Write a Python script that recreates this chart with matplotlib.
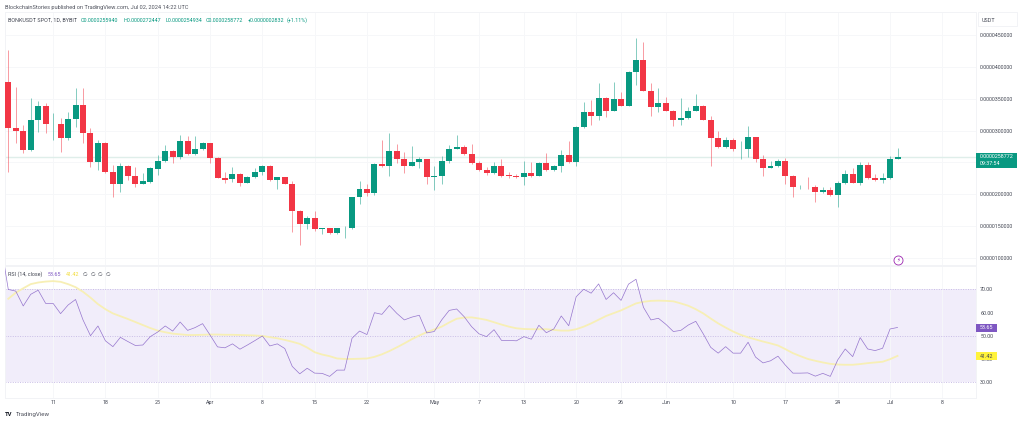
import numpy as np
import matplotlib
matplotlib.use('Agg')
import matplotlib.pyplot as plt

plt.rcParams['font.family'] = ['Roboto', 'DejaVu Sans']

# prices are in units of 1e-7 USDT, one entry per day from Mar 5 to Jul 2
opens = [376.7, 304.5, 299.8, 269.5, 316.5, 338.5, 310.0, 310.3, 287.8, 318.6,
         340.6, 295.7, 251.1, 280.9, 235.4, 215.6, 244.3, 228.6, 216.5, 219.7,
         240.1, 252.2, 268.3, 258.9, 283.6, 263.2, 270.6, 280.0, 257.4, 226.0,
         223.4, 231.3, 218.1, 227.0, 235.4, 243.8, 222.4, 226.6, 216.0, 173.7,
         152.8, 162.2, 146.0, 146.5, 138.7, 146.5, 147.4, 195.2, 208.2, 201.5,
         247.5, 244.8, 267.9, 254.8, 244.8, 250.6, 254.8, 226.6, 228.6, 252.6,
         271.5, 274.6, 263.2, 248.6, 237.6, 233.3, 244.8, 229.5, 228.6, 226.6,
         232.9, 228.6, 248.6, 238.0, 243.8, 262.0, 250.6, 305.0, 328.6, 322.8,
         351.6, 331.2, 349.5, 339.0, 391.4, 411.2, 362.6, 337.4, 343.7, 331.2,
         316.5, 319.2, 331.2, 339.0, 317.0, 287.8, 273.7, 285.6, 270.6, 271.0,
         289.4, 255.8, 241.6, 244.3, 252.2, 229.1, 210.9, 211.2, 210.9, 203.0,
         206.2, 198.8, 217.2, 231.8, 218.1, 246.4, 225.5, 222.8, 225.5, 255.94]
highs = [426.5, 368.8, 308.7, 351.0, 346.4, 343.2, 327.5, 319.7, 329.6, 366.8,
         366.8, 304.0, 285.2, 282.0, 245.9, 249.0, 245.9, 243.2, 233.3, 242.8,
         261.6, 277.3, 269.5, 293.0, 291.4, 291.4, 282.5, 280.9, 258.5, 235.4,
         243.2, 233.3, 228.6, 240.7, 245.9, 245.9, 227.5, 227.5, 220.8, 175.3,
         165.8, 173.7, 147.0, 147.0, 147.0, 149.5, 196.2, 221.2, 216.1, 249.0,
         285.2, 296.6, 278.9, 266.8, 275.7, 258.5, 255.0, 244.3, 260.0, 277.3,
         293.0, 277.3, 278.9, 252.6, 243.2, 251.1, 254.8, 235.4, 231.8, 252.6,
         251.1, 251.1, 265.2, 245.9, 269.5, 284.0, 307.1, 345.3, 348.0, 375.1,
         353.1, 376.7, 361.0, 394.0, 444.8, 439.5, 375.1, 366.3, 353.1, 332.3,
         351.6, 336.5, 357.4, 340.0, 322.8, 299.7, 290.3, 287.8, 284.0, 307.1,
         290.0, 261.6, 252.6, 254.8, 256.4, 230.2, 214.5, 227.5, 214.5, 211.8,
         211.8, 220.0, 238.0, 240.7, 251.1, 251.1, 231.8, 233.8, 260.0, 272.45]
lows = [235.4, 280.0, 265.2, 267.9, 298.2, 296.1, 285.2, 266.8, 285.2, 306.0,
        280.4, 243.2, 238.0, 233.3, 196.1, 204.0, 222.4, 210.9, 216.0, 218.1,
        230.2, 251.1, 248.6, 254.8, 261.6, 261.6, 269.5, 248.6, 225.0, 218.1,
        219.7, 212.9, 217.2, 226.0, 230.2, 220.8, 207.7, 215.6, 141.2, 120.3,
        145.4, 142.3, 137.0, 137.0, 137.0, 131.3, 146.0, 184.7, 197.2, 198.8,
        242.8, 228.6, 249.6, 232.8, 244.3, 241.2, 216.1, 206.6, 216.1, 248.6,
        270.5, 262.0, 247.5, 236.5, 229.7, 231.8, 226.6, 226.0, 225.5, 214.5,
        226.6, 228.0, 236.8, 236.0, 235.4, 249.8, 244.3, 304.0, 308.7, 316.5,
        320.8, 330.7, 338.5, 338.5, 371.5, 362.0, 322.8, 329.6, 330.7, 307.6,
        308.7, 317.6, 330.7, 316.5, 244.8, 272.2, 272.6, 268.3, 255.0, 258.0,
        251.0, 228.6, 241.0, 242.3, 216.0, 196.1, 207.8, 207.8, 188.0, 201.5,
        197.6, 179.5, 216.5, 217.0, 214.5, 224.7, 221.2, 217.0, 224.7, 254.93]
closes = [304.5, 299.3, 269.5, 316.5, 338.5, 310.3, 311.0, 287.8, 318.1, 340.6,
          296.1, 250.6, 280.9, 235.4, 215.6, 244.3, 228.6, 216.0, 220.3, 240.7,
          252.2, 268.3, 258.0, 283.6, 263.2, 270.6, 280.0, 257.4, 226.0, 222.8,
          231.3, 218.1, 226.6, 234.9, 243.8, 222.4, 226.6, 216.0, 173.7, 152.8,
          162.2, 145.9, 146.5, 138.7, 146.5, 147.4, 195.2, 208.2, 201.5, 247.5,
          244.3, 267.9, 254.8, 244.8, 250.1, 254.8, 226.6, 228.6, 252.6, 271.0,
          274.6, 263.2, 248.6, 237.6, 233.3, 244.8, 228.2, 229.1, 226.6, 232.9,
          228.6, 248.6, 238.0, 243.8, 261.6, 250.6, 305.0, 328.6, 322.8, 351.6,
          331.2, 349.5, 339.0, 391.4, 411.2, 362.6, 337.4, 343.7, 331.2, 316.5,
          319.7, 331.2, 339.0, 317.0, 287.8, 273.7, 285.6, 270.6, 270.9, 289.4,
          255.8, 241.6, 244.3, 252.2, 229.1, 210.9, 211.2, 210.9, 203.0, 206.2,
          198.8, 217.6, 231.8, 218.1, 246.4, 225.5, 222.8, 225.5, 255.9, 258.77]

# RSI starts one day earlier, the first point is cut off by the pane edge
rsi_vals = [89.7, 70.0, 69.3, 62.9, 67.9, 69.7, 64.0, 64.0, 59.6, 63.3, 65.7,
            56.9, 50.1, 54.3, 47.9, 45.4, 49.4, 47.6, 45.9, 46.1, 49.7,
            51.7, 54.3, 52.1, 56.0, 52.4, 53.6, 55.3, 50.4, 45.3, 44.9,
            46.6, 44.3, 46.1, 48.0, 50.0, 45.7, 46.6, 44.6, 36.9, 33.7,
            36.1, 34.0, 33.9, 32.6, 35.3, 35.3, 49.0, 52.1, 50.6, 60.0,
            59.3, 63.1, 59.7, 56.9, 58.1, 58.9, 51.3, 51.9, 56.9, 61.0,
            61.6, 58.3, 54.0, 50.9, 49.7, 52.7, 48.1, 48.1, 47.9, 49.7,
            48.6, 54.6, 51.4, 53.0, 58.6, 54.4, 66.9, 70.1, 68.4, 72.4,
            65.7, 68.6, 65.3, 72.3, 74.4, 62.3, 56.9, 57.6, 55.0, 51.9,
            52.4, 54.7, 56.3, 50.9, 45.1, 42.6, 45.4, 42.6, 42.6, 47.3,
            40.9, 38.4, 39.3, 41.3, 37.4, 34.0, 34.0, 34.1, 32.7, 33.9,
            32.6, 39.7, 44.4, 41.1, 49.3, 44.4, 43.7, 44.7, 53.0, 53.65]
rsi_ma = [66.0, 68.6, 70.5, 72.3, 73.0, 73.4, 73.6, 73.3, 72.3, 71.0,
          69.0, 66.5, 63.7, 61.5, 59.7, 58.5, 57.3, 56.0, 54.7, 53.4,
          52.3, 51.6, 51.0, 50.7, 50.4, 50.4, 50.5, 50.6, 50.6, 50.5,
          50.5, 50.4, 50.3, 50.2, 50.0, 49.5, 49.0, 48.3, 47.5, 46.6,
          45.0, 43.0, 42.0, 41.3, 40.3, 40.1, 40.1, 40.2, 40.3, 41.0,
          42.1, 43.5, 45.1, 46.8, 48.6, 50.2, 51.6, 52.8, 54.0, 55.8,
          57.4, 57.9, 58.0, 57.5, 56.9, 55.9, 54.9, 54.0, 53.3, 53.0,
          52.9, 52.9, 52.9, 52.6, 52.3, 52.3, 52.9, 54.0, 55.4, 57.0,
          58.6, 59.8, 61.0, 62.5, 64.0, 64.7, 65.1, 65.2, 65.1, 64.9,
          64.0, 63.0, 61.5, 59.7, 57.5, 55.4, 53.6, 51.9, 50.5, 49.4,
          48.5, 47.6, 46.8, 45.9, 44.3, 42.6, 41.3, 40.1, 39.3, 38.6,
          38.0, 37.7, 37.6, 37.6, 37.9, 38.3, 38.6, 38.9, 40.0, 41.42]

date_pos = [6, 13, 20, 27, 34, 41, 48, 57, 63, 69, 76, 82, 88, 97, 104, 111, 118, 125]
date_labels = ['11', '18', '25', 'Apr', '8', '15', '22', 'May', '7', '13', '20', '26',
               'Jun', '10', '17', '24', 'Jul', '8']
# the 250 label sits under the last price box in the picture, so only its gridline shows
price_ticks = [450, 400, 350, 300, 250, 200, 150, 100]
price_labels = ['0.0000450000', '0.0000400000', '0.0000350000', '0.0000300000', '',
                '0.0000200000', '0.0000150000', '0.0000100000']
rsi_ticks = [70, 60, 50, 40, 30]

GREEN = '#089981'
RED = '#f23645'
PURPLE = '#7e57c2'
YELLOW = '#f7efb5'
GRID = '#f6f7f9'
TEXT = '#434753'
FS = 3.9

W, H = 1024, 423
fig = plt.figure(figsize=(W / 100, H / 100), dpi=100, facecolor='white')


def pane(x0, y0, x1, y1):
    return fig.add_axes([x0 / W, 1 - y1 / H, (x1 - x0) / W, (y1 - y0) / H])


def fx(px):
    return px / W


def fy(px):
    return 1 - px / H


def box(x0, y0, x1, y1, **kw):
    fig.add_artist(plt.Rectangle((fx(x0), fy(y1)), (x1 - x0) / W, (y1 - y0) / H,
                                 transform=fig.transFigure, **kw))


ax = pane(5, 12, 976, 265)
ax2 = pane(5, 266, 976, 398)

# candles
x = np.arange(len(closes))
o, h, l, c = map(np.array, (opens, highs, lows, closes))
colors = np.where(c >= o, GREEN, RED)
ax.vlines(x, l, h, colors=colors, lw=0.7, alpha=0.5, zorder=2)
ax.bar(x, np.abs(c - o), bottom=np.minimum(o, c), width=0.8, color=colors, lw=0, zorder=3)
ax.axhline(closes[-1], color='#dfeeea', lw=1.0, zorder=1)

ax.set_xlim(-0.44, 129.5)
ax.set_ylim(88.9, 486.1)
ax.set_yticks(price_ticks)
ax.set_yticklabels(price_labels)
ax.yaxis.tick_right()
ax.set_xticks(date_pos)
ax.tick_params(axis='x', length=0, labelbottom=False)
ax.tick_params(axis='y', length=0, pad=3, labelsize=FS, labelcolor=TEXT)
ax.grid(color=GRID, lw=0.7)
ax.set_axisbelow(True)

# RSI pane
rsi_x = np.arange(-1, len(closes))
ax2.axhspan(30, 70, color='#f1edfa', lw=0, zorder=0)
for lev in [70, 50, 30]:
    ax2.axhline(lev, color='#c9bde6', lw=0.7, ls=(0, (1, 1.5)), zorder=1)
ax2.plot(x, rsi_ma, color=YELLOW, lw=1.3, zorder=2)
ax2.plot(rsi_x, rsi_vals, color=PURPLE, lw=0.5, alpha=0.8, zorder=3)
ax2.set_xlim(-0.44, 129.5)
ax2.set_ylim(23.3, 80.1)
ax2.set_yticks(rsi_ticks)
ax2.set_yticklabels(['%.2f' % v for v in rsi_ticks])
ax2.yaxis.tick_right()
ax2.set_xticks(date_pos)
ax2.set_xticklabels(date_labels)
ax2.tick_params(axis='x', length=0, pad=1.5, labelsize=FS, labelcolor=TEXT)
ax2.tick_params(axis='y', length=0, pad=3, labelsize=FS, labelcolor=TEXT)
ax2.grid(axis='x', color=GRID, lw=0.7)
ax2.set_axisbelow(True)

for a in (ax, ax2):
    for s in a.spines.values():
        s.set_color('#f2f3f6')
        s.set_linewidth(0.7)

# header text
fig.text(fx(5), fy(7), 'BlockchainStories published on TradingView.com, Jul 02, 2024 14:22 UTC',
         fontsize=4.05, color='#50535e', va='center')
fig.text(fx(8), fy(20), 'BONKUSDT SPOT, 1D, BYBIT', fontsize=FS, color=TEXT, va='center')
for xp, s in [(81, 'O0.0000255940'), (123, 'H0.0000272447'), (165, 'L0.0000254934'),
              (206, 'C0.0000258772'), (248, '+0.0000002832'), (287, '(+1.11%)')]:
    fig.text(fx(xp), fy(20), s, fontsize=FS, color=GREEN, va='center')

# RSI legend
fig.text(fx(8), fy(274), 'RSI (14, close)', fontsize=FS, color=TEXT, va='center')
fig.text(fx(48), fy(274), '53.65', fontsize=FS, color=PURPLE, va='center')
fig.text(fx(66), fy(274), '41.42', fontsize=FS, color='#f2dc3a', va='center')
for xp in [83, 91, 98, 106]:
    fig.text(fx(xp), fy(274), '∅', fontsize=FS, color=TEXT, va='center')

# right hand scale boxes
box(978, 12, 1017, 26, fc='white', ec='#f2f3f6', lw=0.7, zorder=1)
fig.text(fx(982), fy(20), 'USDT', fontsize=FS, color=TEXT, va='center', zorder=4)
box(976, 153, 1017, 167.5, fc=GREEN, ec='none', zorder=2)
fig.text(fx(980), fy(157), '0.0000258772', fontsize=FS, color='white', va='center', zorder=4)
fig.text(fx(980), fy(163.5), '09:37:54', fontsize=FS, color='white', va='center', zorder=4)
box(976, 323.5, 997, 331.5, fc=PURPLE, ec='none', zorder=2)
fig.text(fx(980), fy(327.5), '53.65', fontsize=FS, color='white', va='center', zorder=4)
box(976, 352, 997, 360, fc='#fff33b', ec='none', zorder=2)
fig.text(fx(980), fy(356), '41.42', fontsize=FS, color=TEXT, va='center', zorder=4)

# dividend marker and logo
ax.plot([fx(898)], [fy(260)], 'o', ms=6.5, mfc='white', mec='#9c27b0', mew=0.6,
        transform=fig.transFigure, clip_on=False, zorder=5)
fig.text(fx(898), fy(260), '⚡', fontsize=4, color='#9c27b0', ha='center', va='center', zorder=6,
         family='DejaVu Sans')
fig.text(fx(5), fy(414.5), 'TV', fontsize=4.2, color='#131722', weight='bold', va='center')
fig.text(fx(16), fy(414.5), 'TradingView', fontsize=4.4, color='#50535e', va='center')

fig.savefig('out.png', dpi=100, facecolor='white')
